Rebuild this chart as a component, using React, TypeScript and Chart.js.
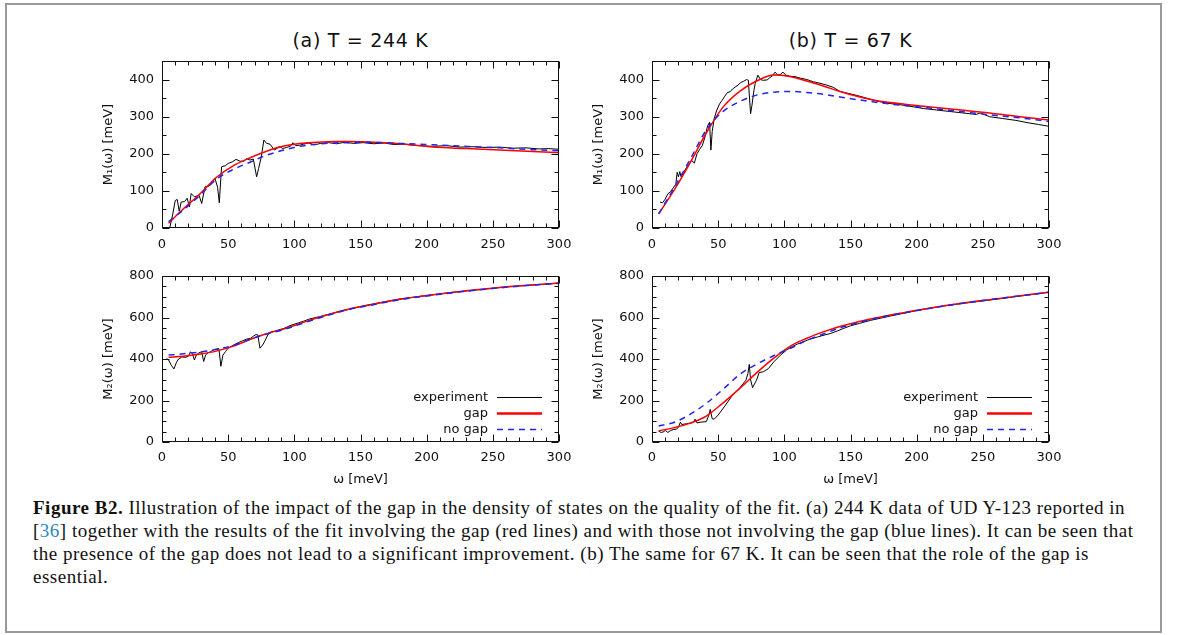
import React, { useEffect, useRef } from 'react';
import { Chart, registerables } from 'chart.js';

Chart.register(...registerables);
Chart.defaults.font.family = "'DejaVu Sans', sans-serif";
Chart.defaults.font.size = 13;

// ---------- tick labels ----------
const X_TICKS = [0, 50, 100, 150, 200, 250, 300];
const M1_TICKS = [0, 100, 200, 300, 400];
const M2_TICKS = [0, 200, 400, 600, 800];

// ---------- fit curves (shared ω grid, meV) ----------
const FIT_W = [5, 16, 29, 41, 54, 67, 79, 92, 104, 117, 130, 142, 155, 167, 180, 205, 230, 255, 280, 300];

// (a) T = 244 K, M1
const A1_GAP = [13, 51, 93, 136, 168, 190, 207, 221, 228, 231, 233, 233, 232, 230, 227, 218, 214, 210, 206, 203];
const A1_NOGAP = [17, 48, 89, 131, 158, 178, 196, 210, 220, 226, 229, 230, 231, 230, 228, 224, 220, 216, 211, 208];
// (b) T = 67 K, M1
const B1_GAP = [38, 98, 177, 256, 327, 370, 396, 412, 408, 396, 382, 368, 355, 345, 338, 328, 319, 310, 299, 291];
const B1_NOGAP = [38, 104, 186, 264, 315, 342, 358, 366, 368, 365, 360, 353, 346, 340, 334, 325, 315, 305, 296, 287];
// (a) T = 244 K, M2
const A2_GAP = [408, 413, 424, 438, 462, 495, 522, 545, 570, 598, 622, 642, 658, 673, 688, 710, 729, 745, 757, 766];
const A2_NOGAP = [419, 425, 434, 446, 466, 497, 520, 542, 567, 594, 619, 640, 656, 671, 686, 708, 727, 743, 756, 765];
// (b) T = 67 K, M2
const B2_GAP = [54, 68, 91, 125, 190, 262, 333, 404, 460, 500, 532, 557, 578, 595, 612, 640, 665, 686, 706, 722];
const B2_NOGAP = [77, 93, 134, 186, 256, 329, 375, 416, 450, 490, 522, 550, 573, 593, 610, 639, 664, 686, 706, 722];

// ---------- experiment ----------
const A1_EXP_W = [5.5, 8, 10, 11.5, 13, 14.5, 17, 19, 20.7, 22, 24.5, 28, 30, 32.5, 35, 37.5, 40, 42, 43.3, 45, 48, 50, 53, 56, 59, 62, 64, 66.5, 69, 71.5, 73, 75, 77, 79, 81.6, 85, 87, 89, 91, 94, 97, 99, 101, 104, 107, 111, 115, 120, 126, 132, 138, 145, 152, 160, 168, 175, 182, 190, 198, 205, 215, 225, 235, 245, 255, 265, 275, 285, 292, 300];
const A1_EXP = [-5, 35, 74, 77, 45, 70, 71, 80, 57, 93, 84, 88, 66, 111, 112, 120, 134, 110, 68, 165, 168, 174, 178, 185, 180, 180, 187, 183, 186, 138, 160, 192, 237, 228, 226, 210, 215, 220, 214, 217, 220, 230, 222, 223, 226, 229, 224, 228, 230, 227, 231, 228, 230, 227, 229, 225, 226, 223, 221, 220, 222, 218, 219, 217, 218, 215, 216, 213, 214, 212];

const B1_EXP_W = [6, 8, 10, 12, 14, 16, 18, 19, 20, 21, 22, 24, 26, 28, 30, 32, 34, 36, 38, 40, 42, 43.5, 44.5, 45.5, 47, 49, 51, 53, 55, 57, 59, 61, 63, 65, 67, 69, 71.5, 72.8, 74.5, 75.5, 77, 78, 80, 82, 84, 87, 89, 91, 93, 95, 97, 99, 101, 104, 108, 112, 117, 122, 127, 132, 137, 142, 148, 155, 162, 170, 178, 186, 195, 205, 215, 225, 235, 245, 248, 255, 265, 275, 285, 292, 300];
const B1_EXP = [70, 68, 78, 92, 98, 108, 118, 150, 138, 152, 138, 150, 163, 172, 182, 175, 200, 212, 222, 245, 275, 285, 210, 260, 295, 318, 334, 344, 355, 365, 367, 375, 380, 385, 392, 395, 400, 398, 308, 330, 370, 390, 412, 400, 398, 399, 405, 410, 420, 412, 414, 420, 412, 409, 408, 404, 400, 394, 390, 385, 379, 368, 363, 357, 350, 342, 336, 333, 328, 322, 318, 314, 310, 306, 310, 300, 295, 290, 283, 279, 274];

const A2_EXP_W = [3.5, 5, 7, 9, 11, 12.5, 15, 18, 20, 21.5, 23, 24.5, 26, 28, 30, 31.5, 33, 35, 37, 39, 41, 43, 44.5, 46, 48, 50, 52, 55, 58, 61, 64, 67, 69, 71, 72.5, 74, 76, 78, 80, 82, 85, 88, 92, 95, 99, 103, 107, 111, 115, 119, 125, 130, 136, 142, 148, 155, 162, 170, 180, 190, 200, 210, 220, 230, 240, 250, 260, 270, 280, 290, 300];
const A2_EXP = [403, 395, 370, 352, 385, 400, 410, 408, 414, 435, 425, 395, 420, 430, 435, 388, 420, 430, 436, 445, 448, 450, 365, 418, 436, 452, 460, 470, 480, 488, 496, 500, 510, 518, 515, 452, 467, 490, 516, 530, 534, 540, 547, 556, 566, 574, 582, 592, 598, 604, 614, 622, 632, 640, 650, 660, 668, 678, 690, 698, 706, 714, 722, 728, 734, 741, 747, 752, 757, 761, 766];

const B2_EXP_W = [5, 7, 9, 10, 12, 14, 16, 18.6, 20, 21.5, 22.5, 24, 26, 28, 30, 31.5, 32.5, 34, 37, 41, 43, 44, 45.5, 47, 50, 55, 60, 66.5, 71, 72.5, 73.5, 74.5, 76, 79, 81, 84, 88, 92, 97, 102, 106, 110, 115, 120, 125, 130, 135, 140, 145, 150, 157, 165, 173, 180, 190, 205, 220, 235, 250, 265, 280, 290, 300];
const B2_EXP = [52, 46, 50, 56, 46, 55, 60, 62, 72, 96, 84, 86, 88, 90, 92, 96, 110, 92, 96, 98, 130, 157, 112, 110, 130, 173, 218, 262, 298, 330, 374, 300, 262, 298, 335, 338, 354, 386, 418, 445, 460, 472, 485, 497, 506, 515, 523, 535, 548, 560, 572, 586, 597, 607, 620, 640, 655, 668, 680, 692, 705, 713, 722];

const SERIES_LABELS = ['experiment', 'gap', 'no gap'];
const TITLES = ['(a) T = 244 K', '(b) T = 67 K'];

type Panel = {
  expW: number[]; exp: number[]; gap: number[]; noGap: number[];
  yMax: number; yTicks: number[]; yMinor: number; yTitle: string;
  bottom: boolean; left: number; top: number;
};

const PANELS: Panel[] = [
  { expW: A1_EXP_W, exp: A1_EXP, gap: A1_GAP, noGap: A1_NOGAP, yMax: 450, yTicks: M1_TICKS, yMinor: 50, yTitle: 'M\u2081(\u03c9) [meV]', bottom: false, left: 92, top: 50 },
  { expW: B1_EXP_W, exp: B1_EXP, gap: B1_GAP, noGap: B1_NOGAP, yMax: 450, yTicks: M1_TICKS, yMinor: 50, yTitle: 'M\u2081(\u03c9) [meV]', bottom: false, left: 582, top: 50 },
  { expW: A2_EXP_W, exp: A2_EXP, gap: A2_GAP, noGap: A2_NOGAP, yMax: 800, yTicks: M2_TICKS, yMinor: 50, yTitle: 'M\u2082(\u03c9) [meV]', bottom: true, left: 92, top: 266 },
  { expW: B2_EXP_W, exp: B2_EXP, gap: B2_GAP, noGap: B2_NOGAP, yMax: 800, yTicks: M2_TICKS, yMinor: 50, yTitle: 'M\u2082(\u03c9) [meV]', bottom: true, left: 582, top: 266 },
];

const framePlugin = {
  id: 'gframe',
  afterDraw(chart: any, _args: any, opts: any) {
    const { ctx, chartArea: a, scales } = chart;
    const xs = scales.x, ys = scales.y;
    ctx.save();
    ctx.strokeStyle = '#111';
    ctx.lineWidth = 1;
    ctx.setLineDash([]);
    const L = Math.round(a.left) + 0.5, R = Math.round(a.right) - 0.5;
    const T = Math.round(a.top) + 0.5, B = Math.round(a.bottom) - 0.5;
    ctx.strokeRect(L, T, R - L, B - T);
    ctx.beginPath();
    const xMajor = xs.ticks.map((t: any) => t.value);
    for (let v = xs.min; v <= xs.max + 1e-9; v += opts.xMinor) {
      const px = Math.round(xs.getPixelForValue(v)) + 0.5;
      const len = xMajor.includes(v) ? 7 : 4;
      ctx.moveTo(px, B); ctx.lineTo(px, B - len);
      ctx.moveTo(px, T); ctx.lineTo(px, T + len);
    }
    const yMajor = ys.ticks.map((t: any) => t.value);
    for (let v = ys.min; v <= ys.max + 1e-9; v += opts.yMinor) {
      const py = Math.round(ys.getPixelForValue(v)) + 0.5;
      const len = yMajor.includes(v) ? 7 : 4;
      ctx.moveTo(L, py); ctx.lineTo(L + len, py);
      ctx.moveTo(R, py); ctx.lineTo(R - len, py);
    }
    ctx.stroke();

    if (opts.legend) {
      const offs = [45, 29, 13.5];
      ctx.font = "13px 'DejaVu Sans'";
      ctx.textAlign = 'right';
      ctx.textBaseline = 'middle';
      chart.data.datasets.forEach((ds: any, i: number) => {
        const yy = Math.round(a.bottom - offs[i]) + 0.5;
        ctx.fillStyle = '#111';
        ctx.fillText(ds.label, a.right - 71, yy);
        ctx.strokeStyle = ds.borderColor;
        ctx.lineWidth = i === 1 ? 2.5 : ds.borderWidth;
        ctx.setLineDash(ds.borderDash || []);
        ctx.beginPath();
        ctx.moveTo(a.right - 62, yy);
        ctx.lineTo(a.right - 17, yy);
        ctx.stroke();
      });
    }
    ctx.restore();
  },
};

function pts(w: number[], v: number[]) {
  return w.map((x, i) => ({ x, y: v[i] }));
}

function zeroPad(s: any) {
  s.paddingTop = 0; s.paddingBottom = 0; s.paddingLeft = 0; s.paddingRight = 0;
}

function PanelChart({ p }: { p: Panel }) {
  const ref = useRef<HTMLCanvasElement>(null);
  const H = p.bottom ? 230 : 210;
  useEffect(() => {
    if (!ref.current) return;
    const chart = new Chart(ref.current, {
      type: 'line',
      data: {
        datasets: [
          { label: SERIES_LABELS[0], data: pts(p.expW, p.exp), borderColor: '#000000', borderWidth: 1, pointRadius: 0, tension: 0, order: 3 } as any,
          { label: SERIES_LABELS[1], data: pts(FIT_W, p.gap), borderColor: '#ff0000', borderWidth: 1.5, pointRadius: 0, cubicInterpolationMode: 'monotone', order: 2 } as any,
          { label: SERIES_LABELS[2], data: pts(FIT_W, p.noGap), borderColor: '#2323f0', borderWidth: 1.5, borderDash: [6, 5], pointRadius: 0, cubicInterpolationMode: 'monotone', order: 1 } as any,
        ],
      },
      options: {
        responsive: false,
        maintainAspectRatio: false,
        animation: false,
        events: [],
        layout: { padding: { top: p.bottom ? 10 : 11, right: 13, left: 0, bottom: 0 } },
        plugins: {
          legend: { display: false },
          tooltip: { enabled: false },
          gframe: { xMinor: 10, yMinor: p.yMinor, legend: p.bottom },
        } as any,
        scales: {
          x: {
            type: 'linear', min: 0, max: 300,
            grid: { display: false, drawTicks: false },
            border: { display: false },
            ticks: { padding: p.bottom ? 8 : 9, color: '#111', autoSkip: false, maxRotation: 0, font: { size: 13 } },
            afterBuildTicks: (s: any) => { s.ticks = X_TICKS.map((v) => ({ value: v })); },
            afterFit: (s: any) => { s.height = p.bottom ? 54 : 32; zeroPad(s); },
            title: p.bottom
              ? { display: true, text: '\u03c9 [meV]', color: '#111', font: { size: 13 }, padding: { top: 0, bottom: 9 } }
              : { display: false },
          },
          y: {
            type: 'linear', min: 0, max: p.yMax,
            grid: { display: false, drawTicks: false },
            border: { display: false },
            ticks: { padding: 8, color: '#111', autoSkip: false, font: { size: 13 } },
            afterBuildTicks: (s: any) => { s.ticks = p.yTicks.map((v) => ({ value: v })); },
            afterFit: (s: any) => { s.width = 70; zeroPad(s); },
            title: { display: true, text: p.yTitle, color: '#111', font: { size: 13 }, padding: { top: 9, bottom: 0 } },
          },
        } as any,
      },
      plugins: [framePlugin as any],
    });
    return () => chart.destroy();
  }, [p]);
  return (
    <canvas
      ref={ref}
      width={480}
      height={H}
      style={{ position: 'absolute', left: p.left, top: p.top, width: 480, height: H, display: 'block' }}
    />
  );
}

export default function App() {
  return (
    <div style={{ position: 'absolute', left: 0, top: 0, width: 1179, height: 635, background: '#fff', overflow: 'hidden' }}>
      <div style={{ position: 'absolute', left: 5, top: 3, width: 1157, height: 630, border: '2px solid #9a9a9a', boxSizing: 'border-box' }} />
      {TITLES.map((t, i) => (
        <div key={t} style={{ position: 'absolute', left: 162 + i * 490, top: 29, width: 397, textAlign: 'center', font: "19px 'DejaVu Sans'", letterSpacing: '0.7px', lineHeight: '22px', color: '#111', whiteSpace: 'pre' }}>{t}</div>
      ))}
      {PANELS.map((p, i) => <PanelChart key={i} p={p} />)}
      <div style={{ position: 'absolute', left: 33, top: 496, font: "19px 'Liberation Serif'", letterSpacing: '0.5px', lineHeight: '23px', color: '#111', whiteSpace: 'nowrap' }}>
        <b>Figure B2.</b> Illustration of the impact of the gap in the density of states on the quality of the fit. (a) 244 K data of UD Y-123 reported in<br />
        [<span style={{ color: '#2b87c3' }}>36</span>] together with the results of the fit involving the gap (red lines) and with those not involving the gap (blue lines). It can be seen that<br />
        the presence of the gap does not lead to a significant improvement. (b) The same for 67 K. It can be seen that the role of the gap is<br />
        essential.
      </div>
    </div>
  );
}
